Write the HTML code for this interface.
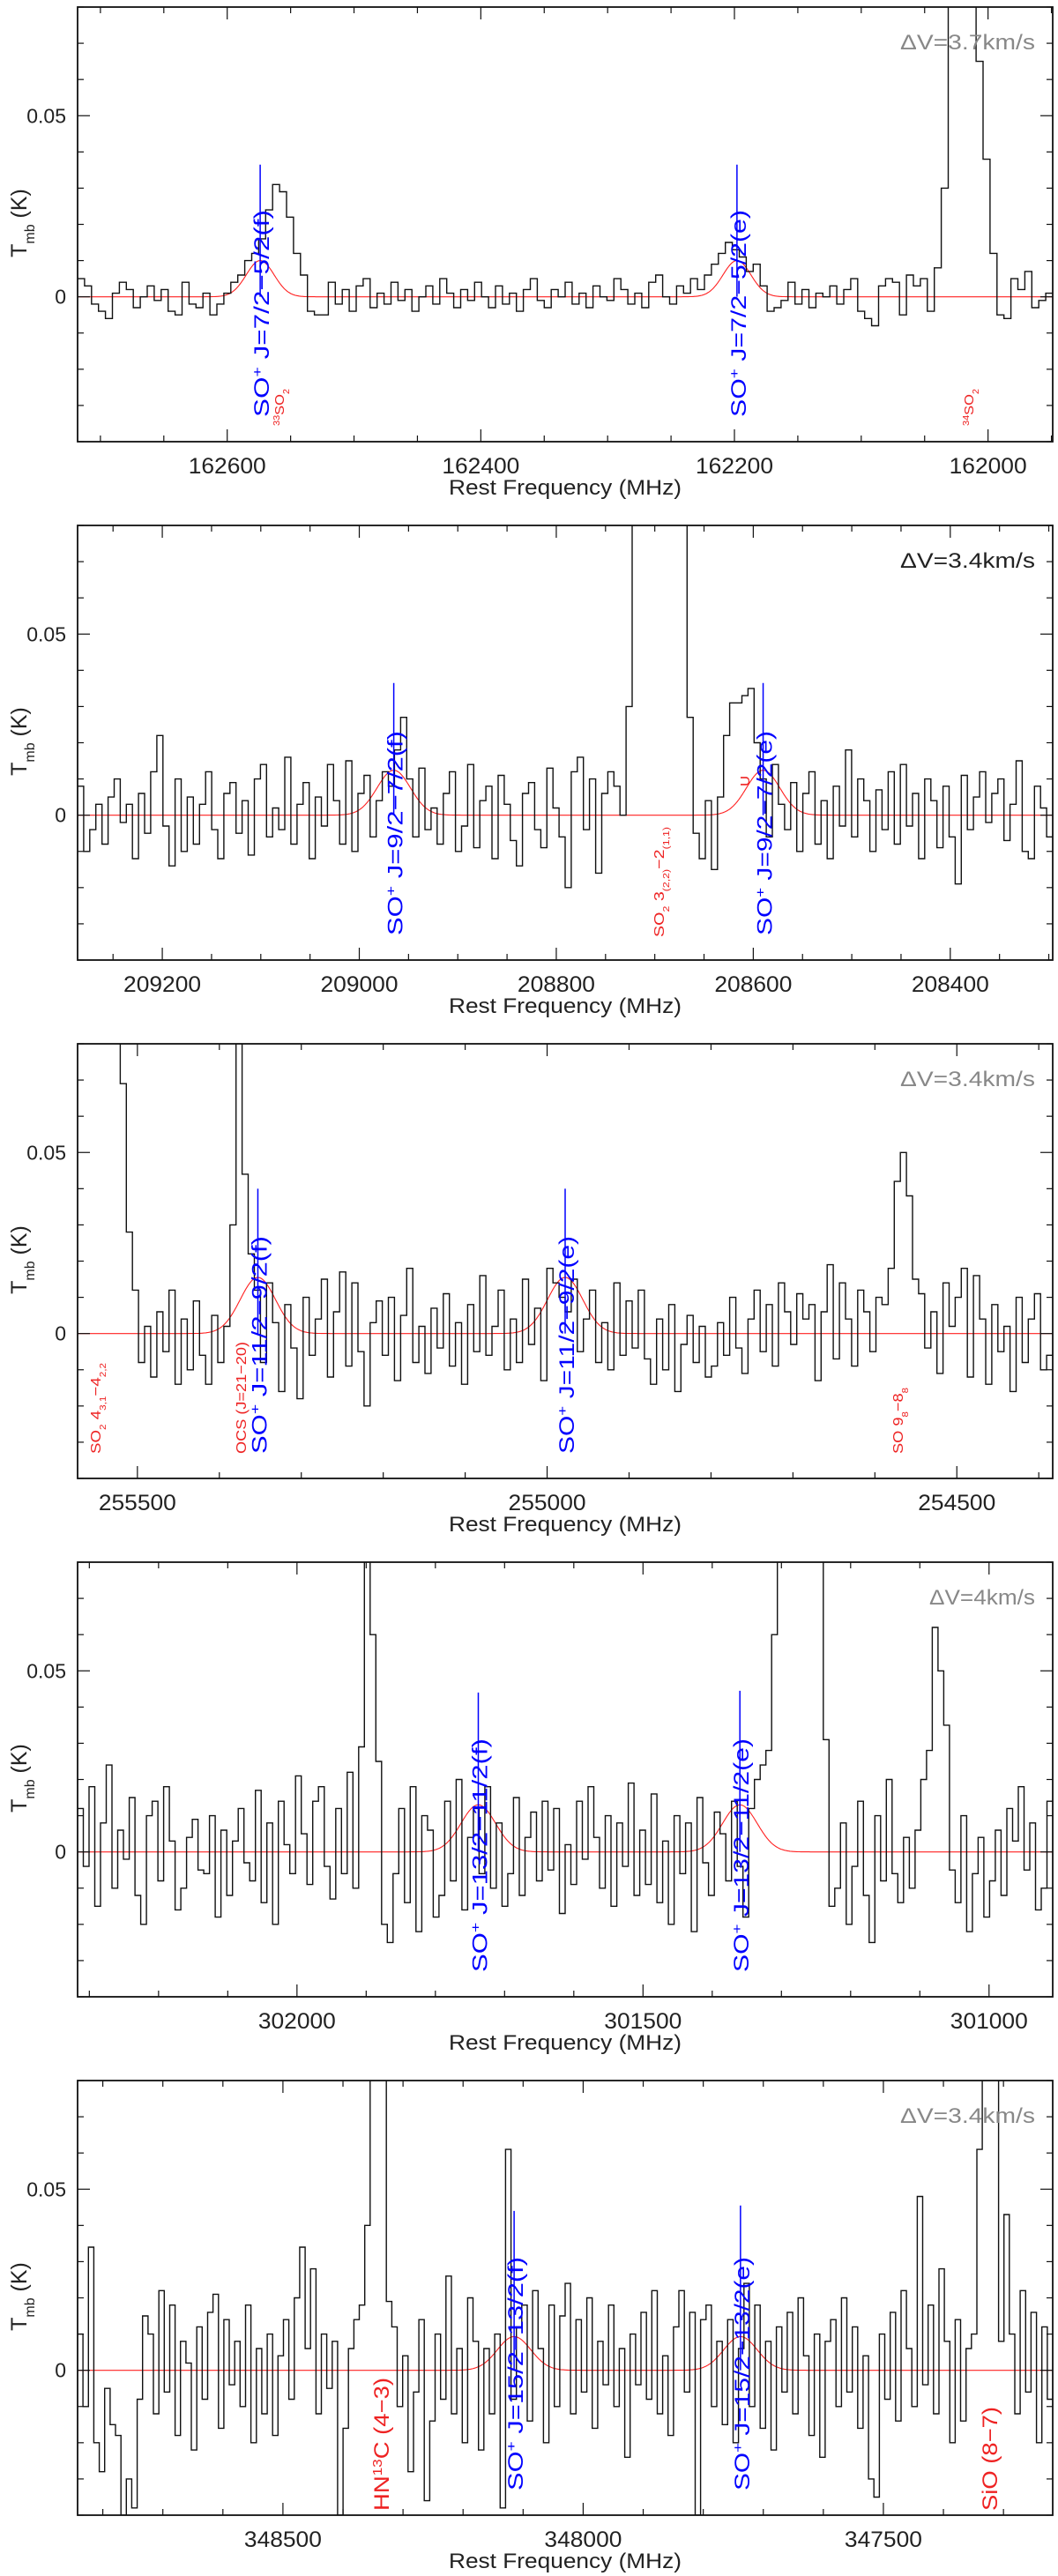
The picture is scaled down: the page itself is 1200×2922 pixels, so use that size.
<!DOCTYPE html>
<html><head><meta charset="utf-8"><title>SO+ spectra</title>
<style>
html,body{margin:0;padding:0;background:#fff;}
svg{display:block;font-family:"Liberation Sans",sans-serif;}
</style></head>
<body>
<svg id="chart" width="1200" height="2922" viewBox="0 0 1200 2922" xmlns="http://www.w3.org/2000/svg"></svg>
<script>
// ---- data (values in mK) ----
const p1Range=[162718,161949];
const p1Vals=[5,3,-2,-4,-6,1,4,2,-3,0, 3,-1,2,-4,-5,4,-2,-3,1,-5, -2,1,4,6,10,12,16,24,31,29,
22,12,6,-4,-5,-5,4,-2,2,-4, 3,5,-3,1,-2,4,-1,2,-4,0, 3,-2,5,1,-3,2,-1,4,0,-3, 3,-2,1,-4,2,5,-1,-3,2,0,
4,-2,1,-3,3,0,-1,5,2,-2, 1,-3,4,6,0,-2,3,1,5,2, 6,9,12,15,13,11,7,9,3,-4, -3,-1,4,-2,2,-3,1,0,3,-2,
2,5,-4,-6,-8,3,5,4,-5,6, 3,5,-4,8,30,120,150,150,130,65, 38,12,-5,-6,5,2,7,-3,-1,1];
const p2Range=[209286,208296];
const p2Vals=[8,-10,-4,3,-8,5,10,-2,3,-12, 6,-5,12,22,-3,-14,10,-10,5,-8, 3,12,-4,-12,6,9,-5,4,-11,10,
14,-6,2,-4,16,-8,3,9,-12,5, -3,14,4,-8,15,-10,6,11,-6,4, 12,8,18,27,10,-6,13,-4,2,-8, 6,12,-10,-3,14,-9,4,8,-12,11,
3,-7,-14,6,9,-4,-9,13,2,-6, -20,12,16,-4,10,-16,6,12,8,0, 30,150,150,150,150,150,150,150,150,150,
27,-5,-12,4,-15,5,22,31,31,33, 35,20,10,-6,14,3,-4,9,-10,6, 12,-8,4,-12,8,-3,18,-6,10,4,
-10,7,-4,12,-8,14,-3,6,-12,10, 4,-9,8,-6,-19,11,-4,5,12,-2, 6,10,-7,3,15,-10,-12,8,2,-6];
const p3Range=[255573,254383];
const p3Vals=[150,150,150,150,150,150,150,69,28,12, -8,2,-12,6,-5,12,-14,4,-10,9, -6,-14,5,-8,2,30,150,44,22,12,
-8,14,3,-16,8,-4,-18,10,-6,4, 15,-12,6,17,-9,14,-5,-20,3,9, -6,10,-13,5,18,-8,2,-11,7,-4, 11,-9,3,-14,8,-5,16,-6,2,12,
-10,4,-8,15,-3,7,-13,18,14,10, 6,15,-5,4,12,-8,3,-10,14,-6, 9,-4,12,-7,-14,4,-10,8,-16,-3,
5,-8,2,-12,-9,3,-6,10,-4,-11, 4,12,-5,8,-9,14,6,-3,11,4, 8,-13,6,19,-7,14,4,-9,12,6,
-5,10,8,18,42,50,38,15,11,-4, 6,-11,14,2,10,18,-12,16,4,-14, 8,-5,2,-16,10,-8,4,11,-10,-6];
const p4Range=[302317,300908];
const p4Vals=[12,-4,18,-15,8,24,-10,6,-2,15, -12,-20,10,14,-8,18,3,-16,-10,4, 9,-5,-6,10,-18,6,-12,3,12,-3,
-8,17,-14,8,-20,14,2,-6,21,5, -9,14,18,-4,-13,12,-6,22,-10,29, 150,60,25,-20,-25,-6,12,-14,18,-22,
10,6,-18,-12,14,-8,20,-16,4,12, -6,18,-10,8,-15,-6,15,-12,4,11, -8,14,-5,12,-17,2,-9,14,-2,18,
4,-10,10,-15,8,-4,19,-12,6,-9, 16,-14,3,-20,10,-6,8,-22,15,-3, -12,11,5,-8,14,-4,-18,12,20,24,
28,60,150,150,150,150,150,150,150,150, 31,-15,-10,8,-20,-4,14,-12,-25,10, -8,20,-6,-14,4,-10,6,20,28,62,
50,35,-5,-14,10,-22,-6,4,-18,-8, 6,-12,12,3,18,-5,8,-16,-10,14];
const p5Range=[348842,347218];
const p5Vals=[10,-10,34,-20,-28,-5,-15,-18,-40,-30, -38,-8,15,10,-12,22,-6,18,-18,8, 2,-22,12,-8,16,21,-16,14,-4,8,
-10,18,-20,6,-12,10,-18,4,14,-8, 20,34,6,28,-12,10,-5,8,-40,-16, 6,14,18,40,150,150,150,19,12,-10,
4,-28,-6,14,-36,-14,10,-8,26,-12, 6,-20,20,8,-22,6,-12,10,-38,61, -8,12,18,-14,22,6,-20,18,-10,15,
24,-12,14,-6,20,-16,8,-4,18,-10, 6,-24,10,-4,16,-8,22,-12,4,-18, 12,22,-6,16,-40,14,18,-10,8,-15,
14,-20,6,24,-10,18,-16,8,-22,12, -6,16,-12,20,4,-18,10,-24,8,14, -10,20,-6,12,-16,4,-30,-35,10,-8,
16,-14,22,6,-10,48,-4,18,-12,28, 8,-20,14,-14,6,10,61,150,150,150, 8,43,10,-12,22,-6,16,-20,12,-8];

const p1Markers=[162574,162198]; const p1MarkerTop=[0.0365,0.0365];
const p2Markers=[208965,208590]; const p2MarkerTop=[0.0365,0.0365];
const p3Markers=[255353,254978]; const p3MarkerTop=[0.040,0.040];
const p4Markers=[301738,301360]; const p4MarkerTop=[0.044,0.0445];
const p5Markers=[348115,347738]; const p5MarkerTop=[0.044,0.0455];
const p1FitAmp=[0.010,0.010]; const p1FitSigma=[11,11];
const p2FitAmp=[0.0124,0.0124]; const p2FitSigma=[17,17];
const p3FitAmp=[0.0155,0.0155]; const p3FitSigma=[21.5,21.5];
const p4FitAmp=[0.013,0.013]; const p4FitSigma=[25,25];
const p5FitAmp=[0.0093,0.0093]; const p5FitSigma=[28,28];

const p1XTicks=[162600,162400,162200,162000];
const p2XTicks=[209200,209000,208800,208600,208400];
const p3XTicks=[255500,255000,254500];
const p4XTicks=[302000,301500,301000];
const p5XTicks=[348500,348000,347500];
const minorSteps=[50,50,100,100,100];
const dvLabels=['ΔV=3.7km/s','ΔV=3.4km/s','ΔV=3.4km/s','ΔV=4km/s','ΔV=3.4km/s'];
const yTickVals=[-0.04,-0.03,-0.02,-0.01,0,0.01,0.02,0.03,0.04,0.05,0.06,0.07,0.08];
const yLabelVals=[0,0.05];
const yLabelText=['0','0.05'];
const yMin=-0.04, yMax=0.08;

// ---- layout ----
const PL=88, PR=1194, PH=493, TOP0=8, STEP=588;
const NS="http://www.w3.org/2000/svg";
const svg=document.getElementById('chart');
function make(tag,parent){const e=document.createElementNS(NS,tag);parent.appendChild(e);return e;}

const panels=[
 {range:p1Range,vals:p1Vals,mk:p1Markers,mt:p1MarkerTop,fa:p1FitAmp,fs:p1FitSigma,xt:p1XTicks,
  blue:['7/2−5/2(f)','7/2−5/2(e)'],blen:235,
  red:[{h:'<tspan baseline-shift="super" font-size="10">33</tspan>SO<tspan baseline-shift="sub" font-size="10">2</tspan>',x:322,b:475,len:42,fs:15},
       {h:'<tspan baseline-shift="super" font-size="10">34</tspan>SO<tspan baseline-shift="sub" font-size="10">2</tspan>',x:1104,b:475,len:42,fs:15}]},
 {range:p2Range,vals:p2Vals,mk:p2Markers,mt:p2MarkerTop,fa:p2FitAmp,fs:p2FitSigma,xt:p2XTicks,
  blue:['9/2−7/2(f)','9/2−7/2(e)'],blen:232,
  red:[{h:'SO<tspan baseline-shift="sub" font-size="10">2</tspan> 3<tspan baseline-shift="sub" font-size="10">(2,2)</tspan>−2<tspan baseline-shift="sub" font-size="10">(1,1)</tspan>',x:753,b:467,len:125,fs:16},
       {h:'U',x:850,b:296,len:12,fs:15}]},
 {range:p3Range,vals:p3Vals,mk:p3Markers,mt:p3MarkerTop,fa:p3FitAmp,fs:p3FitSigma,xt:p3XTicks,
  blue:['11/2−9/2(f)','11/2−9/2(e)'],blen:247,
  red:[{h:'SO<tspan baseline-shift="sub" font-size="10">2</tspan> 4<tspan baseline-shift="sub" font-size="10">3,1</tspan>−4<tspan baseline-shift="sub" font-size="10">2,2</tspan>',x:114,b:465,len:103,fs:16},
       {h:'OCS (J=21−20)',x:279,b:465,len:127,fs:16},
       {h:'SO 9<tspan baseline-shift="sub" font-size="10">8</tspan>−8<tspan baseline-shift="sub" font-size="10">8</tspan>',x:1024,b:465,len:75,fs:16}]},
 {range:p4Range,vals:p4Vals,mk:p4Markers,mt:p4MarkerTop,fa:p4FitAmp,fs:p4FitSigma,xt:p4XTicks,
  blue:['13/2−11/2(f)','13/2−11/2(e)'],blen:265,red:[]},
 {range:p5Range,vals:p5Vals,mk:p5Markers,mt:p5MarkerTop,fa:p5FitAmp,fs:p5FitSigma,xt:p5XTicks,
  blue:['15/2−13/2(f)','15/2−13/2(e)'],blen:265,
  red:[{h:'HN<tspan baseline-shift="super" font-size="15">13</tspan>C (4−3)',x:441,b:488,len:151,fs:24},
       {h:'SiO (8−7)',x:1131,b:488,len:118,fs:24}]}
];

panels.forEach((p,pi)=>{
  const top=TOP0+STEP*pi, bot=top+PH;
  const fL=p.range[0], fR=p.range[1];
  const xOf=f=>PL+(fL-f)/(fL-fR)*(PR-PL);
  const fOf=x=>fL-(x-PL)/(PR-PL)*(fL-fR);
  const yOf=v=>top+(yMax-v)/(yMax-yMin)*PH;
  const g=make('g',svg);
  
  

  const cp=make('clipPath',g); cp.setAttribute('id','clip'+pi);
  const cr=make('rect',cp); cr.setAttribute('x',PL); cr.setAttribute('y',top); cr.setAttribute('width',PR-PL); cr.setAttribute('height',PH);

  // fit curve
  let d='';
  for(let x=PL;x<=PR;x+=1){
    const f=fOf(x); let v=0;
    p.mk.forEach((c,k)=>{v+=p.fa[k]*Math.exp(-0.5*Math.pow((f-c)/p.fs[k],2));});
    d+=(x===PL?'M':'L')+x+' '+yOf(v).toFixed(1);
  }
  const fit=make('path',g);
  
  
  fit.setAttribute('d',d); fit.setAttribute('fill','none'); fit.setAttribute('stroke','#ff2020'); fit.setAttribute('stroke-width','1.1');

  // spectrum histogram
  const n=p.vals.length, cw=(fR-fL)/n;
  let sd='';
  for(let i=0;i<n;i++){
    const x0=xOf(fL+i*cw), x1=xOf(fL+(i+1)*cw), y=yOf(p.vals[i]/1000);
    sd+=(i===0?'M'+x0.toFixed(1)+' '+y.toFixed(1):'V'+y.toFixed(1))+'H'+x1.toFixed(1);
  }
  const sp=make('path',g);
  
  
  sp.setAttribute('d',sd); sp.setAttribute('fill','none'); sp.setAttribute('stroke','#111'); sp.setAttribute('stroke-width','1.4');
  sp.setAttribute('clip-path','url(#clip'+pi+')');

  // markers & blue labels
  p.mk.forEach((c,k)=>{
    const mx=xOf(c);
    const ml=make('line',g);
    
    
    ml.setAttribute('x1',mx); ml.setAttribute('x2',mx); ml.setAttribute('y1',yOf(0)); ml.setAttribute('y2',yOf(p.mt[k]));
    ml.setAttribute('stroke','#0000ff'); ml.setAttribute('stroke-width','1.5');
    const t=make('text',g);
    
    
    const bx=mx+10, by=top+465;
    t.setAttribute('x',bx); t.setAttribute('y',by);
    t.setAttribute('transform','rotate(-90 '+bx+' '+by+')');
    t.setAttribute('fill','#0000ff'); t.setAttribute('font-size','24');
    t.setAttribute('textLength',p.blen); t.setAttribute('lengthAdjust','spacingAndGlyphs');
    t.innerHTML='SO<tspan baseline-shift="super" font-size="15">+</tspan> J='+p.blue[k];
  });
  p.red.forEach(r=>{
    const t=make('text',g);
    
    
    const by=top+r.b;
    t.setAttribute('x',r.x); t.setAttribute('y',by);
    t.setAttribute('transform','rotate(-90 '+r.x+' '+by+')');
    t.setAttribute('fill','#ee2222'); t.setAttribute('font-size',r.fs);
    t.setAttribute('textLength',r.len); t.setAttribute('lengthAdjust','spacingAndGlyphs');
    t.innerHTML=r.h;
  });

  // frame
  const fr=make('rect',g);
  
  
  fr.setAttribute('x',PL); fr.setAttribute('y',top); fr.setAttribute('width',PR-PL); fr.setAttribute('height',PH);
  fr.setAttribute('fill','none'); fr.setAttribute('stroke','#111'); fr.setAttribute('stroke-width','1.8');

  // y ticks
  yTickVals.forEach(v=>{
    const y=yOf(v); const major=(Math.abs(v)<1e-9||Math.abs(v-0.05)<1e-9);
    const len=major?14:7;
    [[PL,PL+len],[PR,PR-len]].forEach(s=>{
      const l=make('line',g);
      
      
      l.setAttribute('x1',s[0]); l.setAttribute('x2',s[1]); l.setAttribute('y1',y); l.setAttribute('y2',y);
      l.setAttribute('stroke','#111'); l.setAttribute('stroke-width','1.2');
    });
  });
  yLabelVals.forEach((v,k)=>{
    const t=make('text',g);
    
    
    t.setAttribute('x',75); t.setAttribute('y',yOf(v)+8);
    t.setAttribute('text-anchor','end'); t.setAttribute('font-size','23'); t.setAttribute('fill','#222');
    t.textContent=yLabelText[k];
  });
  // x ticks
  const ms=minorSteps[pi];
  const fHi=Math.max(fL,fR), fLo=Math.min(fL,fR);
  for(let f=Math.ceil(fLo/ms)*ms; f<=fHi; f+=ms){
    const x=xOf(f); const major=p.xt.indexOf(f)>=0; const len=major?14:7;
    [[bot,bot-len],[top,top+len]].forEach(s=>{
      const l=make('line',g);
      
      
      l.setAttribute('x1',x); l.setAttribute('x2',x); l.setAttribute('y1',s[0]); l.setAttribute('y2',s[1]);
      l.setAttribute('stroke','#111'); l.setAttribute('stroke-width','1.2');
    });
  }
  p.xt.forEach(f=>{
    const t=make('text',g);
    
    
    t.setAttribute('x',xOf(f)); t.setAttribute('y',bot+36);
    t.setAttribute('text-anchor','middle'); t.setAttribute('font-size','25'); t.setAttribute('fill','#222');
    t.setAttribute('textLength','88'); t.setAttribute('lengthAdjust','spacingAndGlyphs');
    t.textContent=String(f);
  });
  const xl=make('text',g);
  
  
  xl.setAttribute('x',641); xl.setAttribute('y',bot+60);
  xl.setAttribute('text-anchor','middle'); xl.setAttribute('font-size','24'); xl.setAttribute('fill','#222');
  xl.setAttribute('textLength','264'); xl.setAttribute('lengthAdjust','spacingAndGlyphs');
  xl.textContent='Rest Frequency (MHz)';

  const yl=make('text',g);
  
  
  const ylx=30, yly=top+245;
  yl.setAttribute('x',ylx); yl.setAttribute('y',yly);
  yl.setAttribute('transform','rotate(-90 '+ylx+' '+yly+')');
  yl.setAttribute('text-anchor','middle'); yl.setAttribute('font-size','25'); yl.setAttribute('fill','#222');
  yl.innerHTML='T<tspan baseline-shift="sub" font-size="16">mb</tspan> (K)';

  const dv=make('text',g);
  
  
  dv.setAttribute('x',1174); dv.setAttribute('y',top+48);
  dv.setAttribute('text-anchor','end'); dv.setAttribute('font-size','24');
  dv.setAttribute('fill',pi===1?'#222':'#888');
  dv.setAttribute('textLength',pi===3?'120':'153'); dv.setAttribute('lengthAdjust','spacingAndGlyphs');
  dv.textContent=dvLabels[pi];
});
</script>
</body></html>
